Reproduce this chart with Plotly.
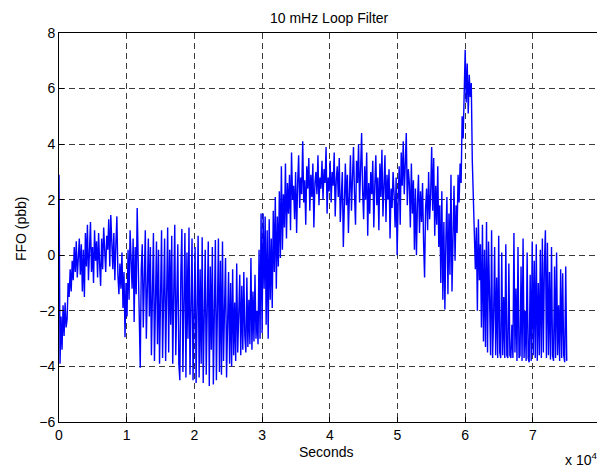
import numpy as np
import plotly.graph_objects as go

# Fractional frequency offset of the 10 mHz loop filter output (ppb),
# sampled every 150 s (0.015 x 10^4 s), starting at t = 0.
t_start = 0.0      # x 10^4 s
t_step = 0.015     # x 10^4 s

ffo = [
    2.9, -3.9, -2.2, -3.4, -1.8, -2.9, -1.7, -2.6, -2.3, -1.0, -1.5, -0.5, -1.3, -0.2, -0.9, 0.3, -0.6, 0.5, -0.8, 0.2,
    0.6, -0.7, 0.4, -1.3, 0.2, -1.5, 0.8, -0.4, 1.1, -0.9, 0.7, 1.2, -0.6, 0.3, -1.0, 0.9, -0.2, 0.5, -0.8, 0.8,
    -0.3, -1.1, 0.6, -0.5, 1.0, 0.1, -0.6, 0.7, 0.2, 1.3, -0.4, 1.45, 0.3, -0.5, 0.8, -0.9, 0.4, 1.4, -0.7, -1.4,
    -0.3, -1.2, 0.1, -1.9, -0.6, -2.95, -1.0, -2.2, 0.2, -1.6, 0.9, -0.4, -1.2, 0.6, -2.4, 0.3, -1.4, 1.7, -0.8, -1.9,
    -4.05, -0.5, 0.4, -2.6, -1.0, 0.9, -3.0, -0.2, 0.6, -2.2, 0.3, -3.6, -0.6, 0.8, -3.8, -1.2, 0.5, -3.2, 0.2, -3.9,
    -0.4, 0.9, -3.7, -1.5, 0.6, -3.8, -0.8, 1.0, -3.5, 0.2, -2.5, 0.7, -3.9, -0.3, 1.1, -3.6, -1.8, 0.4, -3.9, -4.5,
    -0.6, 0.95, -4.2, -1.3, 0.8, -4.4, 0.1, -3.0, 1.0, -4.3, -0.9, 0.6, -4.5, -1.6, 0.3, -4.6, -2.3, 0.7, -4.4, -0.5,
    -3.9, 0.65, -4.6, -1.1, 0.2, -4.3, -2.0, 0.5, -4.7, -0.4, -3.4, 0.3, -4.65, -1.5, 0.55, -4.5, -2.6, 0.6, -4.2, -0.2,
    -4.3, 0.5, -3.8, -1.4, -0.1, -4.4, -2.2, -0.6, -3.9, -1.0, -4.0, -0.5, -3.6, -1.7, -3.8, -0.3, -3.5, -2.4, -0.7, -3.6,
    -1.1, -3.4, -0.6, -2.9, -3.5, -0.8, -3.3, -1.6, -3.2, -0.1, -3.4, -1.3, -3.1, -0.7, -3.0, -2.0, -3.2, 0.2, -3.0, 1.5,
    -2.8, 1.5, -1.2, 1.4, -2.5, 0.9, -3.0, 1.3, -1.6, 0.6, -1.9, 1.6, -0.6, 2.1, -1.2, 1.4, -0.4, 2.3, -0.1, 3.2,
    0.2, 2.2, 1.0, 3.3, 0.6, 2.6, 1.5, 2.9, 0.9, 3.7, 2.0, 2.5, 1.3, 3.0, 0.8, 2.6, 3.6, 1.7, 2.8, 2.2,
    4.1, 1.9, 2.7, 1.1, 3.2, 2.4, 3.5, 1.6, 2.9, 2.1, 3.3, 1.0, 2.6, 3.0, 2.2, 3.6, 1.8, 2.8, 2.4, 3.4,
    2.0, 3.1, 2.6, 3.9, 1.5, 2.8, 2.3, 3.4, 1.9, 3.0, 2.5, 3.7, 1.4, 2.7, 3.2, 2.1, 3.5, 1.2, 2.6, 3.0,
    0.3, 2.4, 3.3, 1.8, 2.9, 0.8, 2.5, 3.6, 1.6, 2.8, 3.9, 2.2, 1.1, 3.4, 2.6, 4.0, 1.9, 3.1, 4.4, 2.3,
    1.3, 3.2, 2.0, 3.7, 0.7, 2.6, 1.5, 3.0, 2.2, 3.4, 1.0, 2.5, 3.6, 1.8, 2.8, 0.9, 3.3, 2.1, 3.8, 1.4,
    2.7, 3.6, 1.2, 2.9, 2.0, 3.1, 0.6, 2.4, 1.7, 3.0, 2.2, 1.0, 2.8, 0.0, 2.0, 3.2, 1.1, 3.7, 2.5, 4.1,
    2.2, 3.5, 4.4, 1.8, 3.1, 2.6, 1.0, 3.3, 1.5, 2.7, 0.2, 2.4, 0.0, 1.9, 2.9, 0.8, 2.3, 1.2, 2.6, 0.5,
    -0.8, 1.7, 2.4, 0.9, 3.0, 1.3, 2.2, 3.9, 1.6, 3.5, 0.7, 2.5, 1.1, 3.2, 0.3, 1.8, -1.0, 2.3, -1.6, 1.2,
    -1.95, 0.6, 2.1, -1.4, 1.5, -0.7, 2.9, -1.3, 0.9, 2.5, -0.2, 1.8, 0.8, 2.9, 1.9, 3.3, 2.6, 5.0, 4.2, 6.1,
    7.4, 5.5, 6.9, 5.1, 6.5, 5.7, 6.2, 3.4, 2.2, 1.1, -0.5, 1.0, -2.0, 1.3, -0.9, 0.4, -2.6, 1.1, -3.1, 0.2,
    -3.3, 1.2, -3.5, 0.5, -1.0, -3.6, 0.9, -3.7, -2.2, 0.3, -3.6, -0.8, -3.7, 0.7, -3.5, -3.7, 0.1, -3.6, -1.5, -3.7,
    0.4, -3.6, -3.7, -0.3, -3.6, -3.7, -2.5, -3.7, 0.8, -3.5, -1.2, -3.8, 0.3, -3.7, -3.6, -0.4, -3.8, 0.6, -3.7, -2.0,
    -3.8, 0.1, -3.7, -3.85, -0.7, -3.8, 0.5, -3.6, -0.2, -3.7, 0.4, -3.8, -1.0, -3.6, 0.2, -3.7, 0.6, -3.5, -0.3, 0.9,
    -3.7, 0.45, -3.6, -0.6, -3.75, 0.3, -3.6, -3.8, -0.4, -3.7, 0.1, -3.6, -1.8, -3.8, -0.5, -3.7, -0.65, -3.6, -3.85, -0.4,
    -3.8,
]

x_ticks = [0, 1, 2, 3, 4, 5, 6, 7]
y_ticks = [-6, -4, -2, 0, 2, 4, 6, 8]

t = t_start + t_step * np.arange(len(ffo))

FONT = "Liberation Sans, Arial, Helvetica, sans-serif"
TEXT = dict(family=FONT, size=14, color="black")

fig = go.Figure()
fig.add_trace(go.Scatter(
    x=t, y=ffo, mode="lines",
    line=dict(color="#0000ff", width=1.4),
    showlegend=False, hoverinfo="skip",
))

axis_common = dict(
    showline=True, linecolor="black", linewidth=1,
    showgrid=True, gridcolor="#3a3a3a", gridwidth=1, griddash="6px,4px",
    zeroline=False, ticks="inside", ticklen=5, tickcolor="black",
    tickfont=TEXT,
)

fig.update_layout(
    width=597, height=466,
    margin=dict(l=59, r=0, t=33, b=44),
    paper_bgcolor="white", plot_bgcolor="white",
    font=dict(family=FONT, color="black"),
    xaxis=dict(range=[0, 7.947], tickvals=x_ticks, mirror=True, **axis_common),
    yaxis=dict(range=[-6, 8], tickvals=y_ticks, mirror=False, **axis_common),
    annotations=[
        dict(text="10 mHz Loop Filter", xref="x", x=4.0, yref="paper", y=1.038,
             xanchor="center", yanchor="middle", showarrow=False, font=TEXT),
        dict(text="Seconds", xref="x", x=3.94, yref="paper", y=-0.077,
             xanchor="center", yanchor="middle", showarrow=False, font=TEXT),
        dict(text="x 10<sup>4</sup>", xref="paper", x=(563 - 59) / 538, yref="paper", y=-0.095,
             xanchor="left", yanchor="middle", showarrow=False, font=TEXT),
        dict(text="FFO (pbb)", xref="paper", x=(21 - 59) / 538, yref="paper", y=0.496,
             xanchor="center", yanchor="middle", textangle=-90, showarrow=False, font=TEXT),
    ],
)

fig.write_html("out.html")
